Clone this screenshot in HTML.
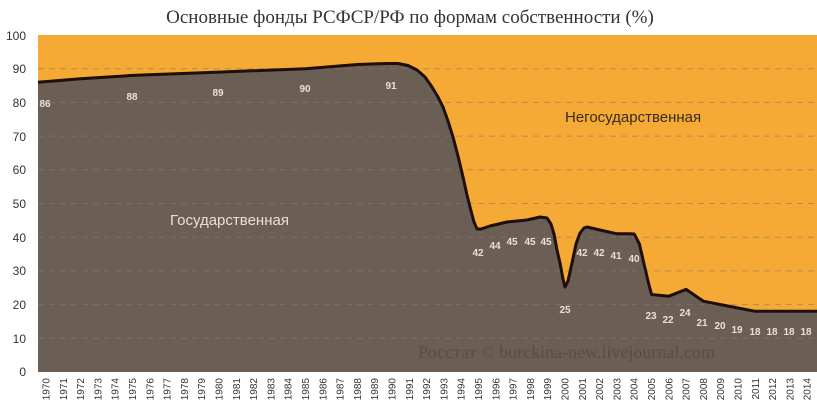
<!DOCTYPE html>
<html><head><meta charset="utf-8"><style>
html,body{margin:0;padding:0;background:#fff;}
svg{display:block;font-family:"Liberation Sans",sans-serif;}
</style></head><body>
<svg width="817" height="409" viewBox="0 0 817 409" xmlns="http://www.w3.org/2000/svg">
<text x="410" y="23" text-anchor="middle" font-family="Liberation Serif,serif" font-size="19" fill="#333">Основные фонды РСФСР/РФ по формам собственности (%)</text>
<rect x="38" y="35" width="780" height="337" fill="#f5aa35"/>
<polygon fill="#6b5e55" points="38,372 38,82.2 80.6,78.8 132.5,75.4 219,72.1 305.5,68.7 357.4,64.5 387,63.5 398,63.5 408,65.5 417,70 425,77 432,87 438,97 443,107 448,121 453,137 458,156 463,177 467,195 470,207 474,222 477,229 481,229 490,226 507,222 527,220 540,217 547,218 551,224 554,234 557,250 560,263 563,279 565,287 568,281 572,263 576,244 580,233 584,228 587,227 600,230 617,233.8 630,233.8 634.2,234 639.4,244 648,281 651.5,294.5 668.8,296.2 686.1,289.4 703.4,301.2 720.7,304.6 738,308 755.3,311.3 807.2,311.3 818,311.3 818,372"/>
<g stroke="#8a7a6a" stroke-width="1" stroke-dasharray="6,5" opacity="0.6">
<line x1="38" x2="818" y1="68.7" y2="68.7"/><line x1="38" x2="818" y1="102.4" y2="102.4"/><line x1="38" x2="818" y1="136.1" y2="136.1"/><line x1="38" x2="818" y1="169.8" y2="169.8"/><line x1="38" x2="818" y1="203.5" y2="203.5"/><line x1="38" x2="818" y1="237.2" y2="237.2"/><line x1="38" x2="818" y1="270.9" y2="270.9"/><line x1="38" x2="818" y1="304.6" y2="304.6"/><line x1="38" x2="818" y1="338.3" y2="338.3"/>
</g>
<polyline fill="none" stroke="#1e0f08" stroke-width="3" stroke-linejoin="round" points="38,82.2 80.6,78.8 132.5,75.4 219,72.1 305.5,68.7 357.4,64.5 387,63.5 398,63.5 408,65.5 417,70 425,77 432,87 438,97 443,107 448,121 453,137 458,156 463,177 467,195 470,207 474,222 477,229 481,229 490,226 507,222 527,220 540,217 547,218 551,224 554,234 557,250 560,263 563,279 565,287 568,281 572,263 576,244 580,233 584,228 587,227 600,230 617,233.8 630,233.8 634.2,234 639.4,244 648,281 651.5,294.5 668.8,296.2 686.1,289.4 703.4,301.2 720.7,304.6 738,308 755.3,311.3 807.2,311.3 818,311.3"/>
<g font-size="12" fill="#333" text-anchor="end">
<text x="26" y="40">100</text><text x="26" y="73">90</text><text x="26" y="107">80</text><text x="26" y="141">70</text><text x="26" y="174">60</text><text x="26" y="208">50</text><text x="26" y="242">40</text><text x="26" y="275">30</text><text x="26" y="309">20</text><text x="26" y="343">10</text><text x="26" y="376">0</text>
</g>
<g font-size="10" font-weight="bold" fill="#e8e0d8" text-anchor="middle">
<text x="45" y="107">86</text><text x="132" y="100">88</text><text x="218" y="96">89</text><text x="305" y="92">90</text><text x="391" y="89">91</text>
<text x="478" y="256">42</text><text x="495" y="249">44</text><text x="512" y="245">45</text><text x="530" y="245">45</text><text x="546" y="245">45</text>
<text x="565" y="313">25</text><text x="582" y="256">42</text><text x="599" y="256">42</text><text x="616" y="259">41</text><text x="634" y="262">40</text>
<text x="651" y="319">23</text><text x="668" y="323">22</text><text x="685" y="316">24</text><text x="702" y="326">21</text><text x="720" y="329">20</text><text x="737" y="333">19</text><text x="755" y="335">18</text><text x="772" y="335">18</text><text x="789" y="335">18</text><text x="806" y="335">18</text>
</g>
<text x="565" y="122" font-size="15" fill="#3a2a20">Негосударственная</text>
<text x="170" y="225" font-size="15" fill="#e8e0d8">Государственная</text>
<text x="418" y="358" font-family="Liberation Serif,serif" font-size="18" fill="#5a4d44">Росстат © burckina-new.livejournal.com</text>
<g font-size="10" fill="#333" text-anchor="end">
<text transform="translate(49.5,378) rotate(-90)">1970</text><text transform="translate(66.8,378) rotate(-90)">1971</text><text transform="translate(84.1,378) rotate(-90)">1972</text><text transform="translate(101.4,378) rotate(-90)">1973</text><text transform="translate(118.7,378) rotate(-90)">1974</text><text transform="translate(136,378) rotate(-90)">1975</text><text transform="translate(153.3,378) rotate(-90)">1976</text><text transform="translate(170.6,378) rotate(-90)">1977</text><text transform="translate(187.9,378) rotate(-90)">1978</text><text transform="translate(205.2,378) rotate(-90)">1979</text><text transform="translate(222.5,378) rotate(-90)">1980</text><text transform="translate(239.8,378) rotate(-90)">1981</text><text transform="translate(257.1,378) rotate(-90)">1982</text><text transform="translate(274.4,378) rotate(-90)">1983</text><text transform="translate(291.7,378) rotate(-90)">1984</text><text transform="translate(309,378) rotate(-90)">1985</text><text transform="translate(326.3,378) rotate(-90)">1986</text><text transform="translate(343.6,378) rotate(-90)">1987</text><text transform="translate(360.9,378) rotate(-90)">1988</text><text transform="translate(378.2,378) rotate(-90)">1989</text><text transform="translate(395.5,378) rotate(-90)">1990</text><text transform="translate(412.8,378) rotate(-90)">1991</text><text transform="translate(430.1,378) rotate(-90)">1992</text><text transform="translate(447.4,378) rotate(-90)">1993</text><text transform="translate(464.7,378) rotate(-90)">1994</text><text transform="translate(482,378) rotate(-90)">1995</text><text transform="translate(499.3,378) rotate(-90)">1996</text><text transform="translate(516.6,378) rotate(-90)">1997</text><text transform="translate(533.9,378) rotate(-90)">1998</text><text transform="translate(551.2,378) rotate(-90)">1999</text><text transform="translate(568.5,378) rotate(-90)">2000</text><text transform="translate(585.8,378) rotate(-90)">2001</text><text transform="translate(603.1,378) rotate(-90)">2002</text><text transform="translate(620.4,378) rotate(-90)">2003</text><text transform="translate(637.7,378) rotate(-90)">2004</text><text transform="translate(655,378) rotate(-90)">2005</text><text transform="translate(672.3,378) rotate(-90)">2006</text><text transform="translate(689.6,378) rotate(-90)">2007</text><text transform="translate(706.9,378) rotate(-90)">2008</text><text transform="translate(724.2,378) rotate(-90)">2009</text><text transform="translate(741.5,378) rotate(-90)">2010</text><text transform="translate(758.8,378) rotate(-90)">2011</text><text transform="translate(776.1,378) rotate(-90)">2012</text><text transform="translate(793.4,378) rotate(-90)">2013</text><text transform="translate(810.7,378) rotate(-90)">2014</text>
</g>
</svg>
</body></html>
